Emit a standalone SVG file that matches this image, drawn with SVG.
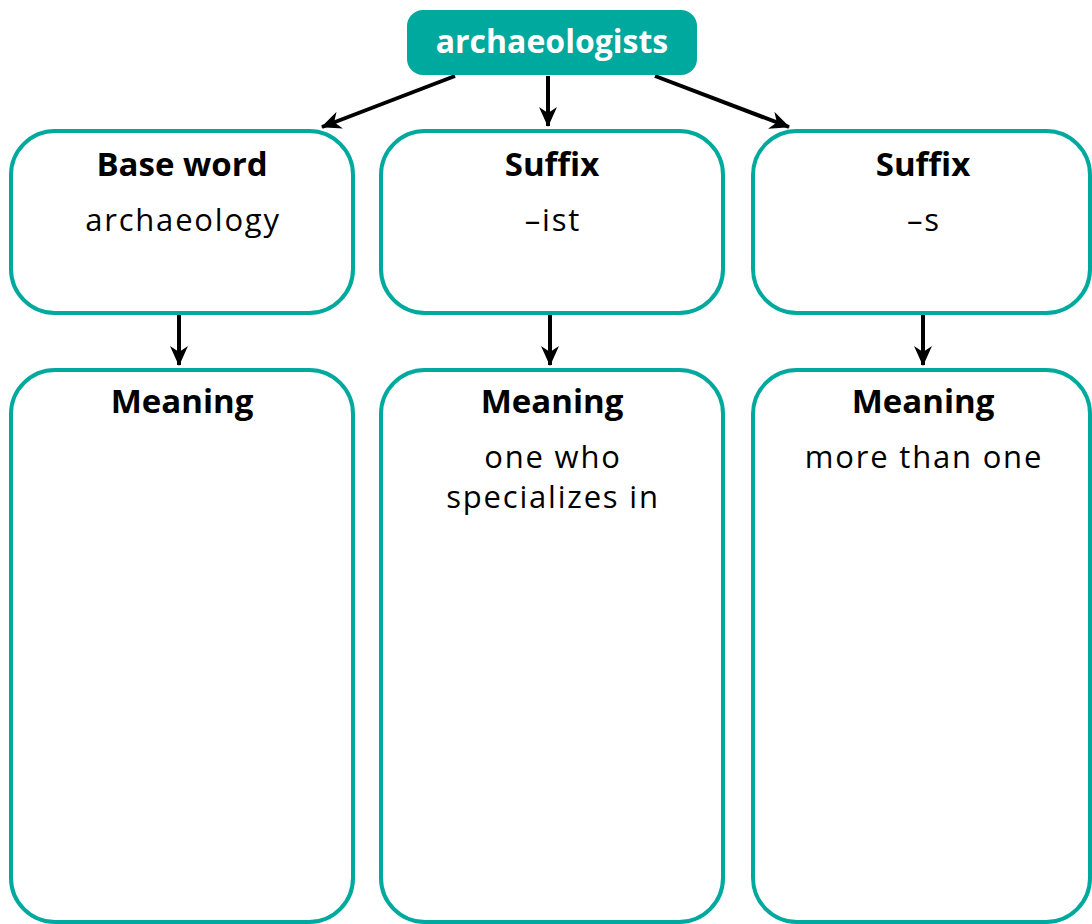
<svg xmlns="http://www.w3.org/2000/svg" width="1092" height="924" viewBox="0 0 1092 924">
<defs>
<style>
.box{fill:#fff;stroke:#00A99D;stroke-width:4}
.t{font-family:"Open Sans","Noto Sans",sans-serif;font-size:31px;letter-spacing:1.8px;fill:#000;text-anchor:middle}
.b{font-weight:bold;font-size:33px;letter-spacing:0}
.w{fill:#fff;font-size:32px}
.c{stroke:#000;stroke-width:4;fill:none;marker-end:url(#ah)}
</style>
<marker id="ah" viewBox="0 0 20 18" refX="19" refY="9" markerWidth="20" markerHeight="18" markerUnits="userSpaceOnUse" orient="auto">
<path d="M0,0 L20,9 L0,18 L6,9 Z" fill="#000"/>
</marker>
</defs>
<rect width="1092" height="924" fill="#fff"/>
<g id="connectors">
<line class="c" x1="455" y1="76" x2="322" y2="127"/>
<line class="c" x1="548" y1="76" x2="548" y2="126"/>
<line class="c" x1="655" y1="76" x2="789" y2="127"/>
<line class="c" x1="179" y1="315" x2="179" y2="365"/>
<line class="c" x1="550" y1="315" x2="550" y2="365"/>
<line class="c" x1="923" y1="315" x2="923" y2="365"/>
</g>
<g id="root">
<rect x="407" y="10" width="290" height="65" rx="16" fill="#00A99D"/>
<text class="t b w" x="552" y="53">archaeologists</text>
</g>
<g id="base-word">
<rect class="box" x="11" y="131" width="342" height="182" rx="44"/>
<text class="t b" x="182" y="176">Base word</text>
<text class="t" x="183" y="231">archaeology</text>
</g>
<g id="suffix-ist">
<rect class="box" x="381" y="131" width="342" height="182" rx="44"/>
<text class="t b" x="552" y="176">Suffix</text>
<text class="t" x="553" y="231">–ist</text>
</g>
<g id="suffix-s">
<rect class="box" x="753" y="131" width="337" height="182" rx="44"/>
<text class="t b" x="923" y="176">Suffix</text>
<text class="t" x="924" y="231">–s</text>
</g>
<g id="meaning-base">
<rect class="box" x="11" y="370" width="342" height="552" rx="44"/>
<text class="t b" x="182" y="413">Meaning</text>
</g>
<g id="meaning-ist">
<rect class="box" x="381" y="370" width="342" height="552" rx="44"/>
<text class="t b" x="552" y="413">Meaning</text>
<text class="t" x="553" y="468">one who</text>
<text class="t" x="553" y="508">specializes in</text>
</g>
<g id="meaning-s">
<rect class="box" x="753" y="370" width="337" height="552" rx="44"/>
<text class="t b" x="923" y="413">Meaning</text>
<text class="t" x="924" y="468">more than one</text>
</g>
</svg>
